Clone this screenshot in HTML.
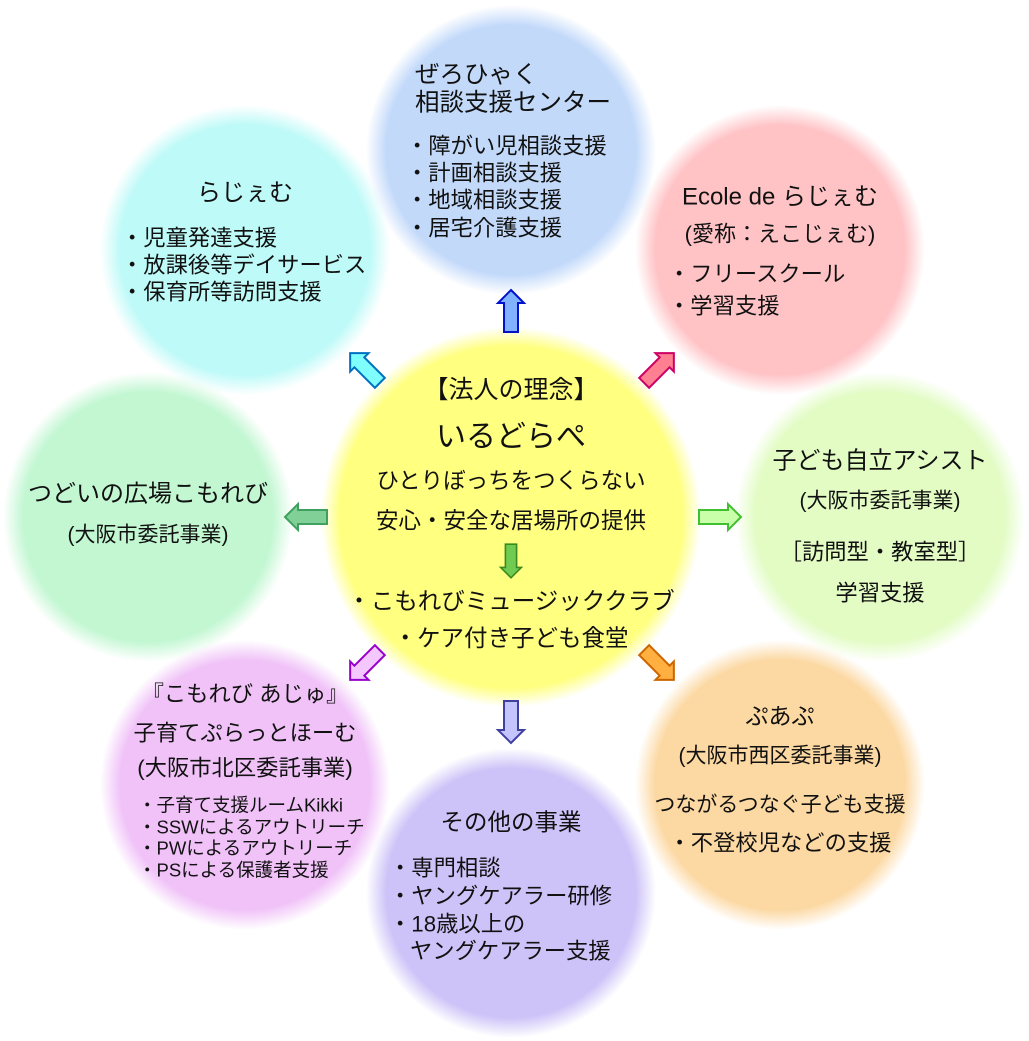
<!DOCTYPE html>
<html><head><meta charset="utf-8"><style>
html,body{margin:0;padding:0;background:#fff;}
svg{display:block;}
text{font-family:"Liberation Sans","Noto Sans CJK JP",sans-serif;fill:#111;dominant-baseline:central;}
</style></head><body>
<svg width="1029" height="1041" viewBox="0 0 1029 1041">
<defs>
<radialGradient id="gb"><stop offset="0.86" stop-color="#c2d9fa"/><stop offset="1" stop-color="#c2d9fa" stop-opacity="0"/></radialGradient>
<radialGradient id="gc"><stop offset="0.86" stop-color="#bdfaf8"/><stop offset="1" stop-color="#bdfaf8" stop-opacity="0"/></radialGradient>
<radialGradient id="gp"><stop offset="0.86" stop-color="#ffc3c6"/><stop offset="1" stop-color="#ffc3c6" stop-opacity="0"/></radialGradient>
<radialGradient id="gm"><stop offset="0.86" stop-color="#c2f7d2"/><stop offset="1" stop-color="#c2f7d2" stop-opacity="0"/></radialGradient>
<radialGradient id="gl"><stop offset="0.86" stop-color="#e2fcc4"/><stop offset="1" stop-color="#e2fcc4" stop-opacity="0"/></radialGradient>
<radialGradient id="gv"><stop offset="0.86" stop-color="#f0c2f8"/><stop offset="1" stop-color="#f0c2f8" stop-opacity="0"/></radialGradient>
<radialGradient id="gu"><stop offset="0.86" stop-color="#cdc3f8"/><stop offset="1" stop-color="#cdc3f8" stop-opacity="0"/></radialGradient>
<radialGradient id="go"><stop offset="0.86" stop-color="#fcd8a2"/><stop offset="1" stop-color="#fcd8a2" stop-opacity="0"/></radialGradient>
<radialGradient id="gy"><stop offset="0.9" stop-color="#ffff80"/><stop offset="1" stop-color="#ffff80" stop-opacity="0"/></radialGradient>
<path id="ar" d="M0,-21 L13,-8 L7,-8 L7,21 L-7,21 L-7,-8 L-13,-8 Z"/>
</defs>
<circle cx="511" cy="150" r="145" fill="url(#gb)"/>
<circle cx="245" cy="250" r="145" fill="url(#gc)"/>
<circle cx="780" cy="250" r="145" fill="url(#gp)"/>
<circle cx="148" cy="517" r="145" fill="url(#gm)"/>
<circle cx="880" cy="517" r="145" fill="url(#gl)"/>
<circle cx="245" cy="785" r="145" fill="url(#gv)"/>
<circle cx="780" cy="785" r="145" fill="url(#go)"/>
<circle cx="511" cy="893" r="145" fill="url(#gu)"/>
<circle cx="511" cy="517" r="190" fill="url(#gy)"/>

<use href="#ar" transform="translate(511,311)" fill="#80b2ff" stroke="#0010cc" stroke-width="2"/>
<use href="#ar" transform="translate(365,368) rotate(-45)" fill="#80ffff" stroke="#0070c0" stroke-width="2"/>
<use href="#ar" transform="translate(659,368) rotate(45)" fill="#ff8090" stroke="#cc0066" stroke-width="2"/>
<use href="#ar" transform="translate(306,517) rotate(-90)" fill="#80d098" stroke="#40a060" stroke-width="2"/>
<use href="#ar" transform="translate(720,517) rotate(90)" fill="#c8ffa8" stroke="#40c030" stroke-width="2"/>
<use href="#ar" transform="translate(511,561) rotate(180) scale(0.8)" fill="#70cc50" stroke="#3a8a20" stroke-width="2"/>
<use href="#ar" transform="translate(365,665) rotate(-135)" fill="#f4c8ff" stroke="#9900cc" stroke-width="2"/>
<use href="#ar" transform="translate(659,665) rotate(135)" fill="#ffb040" stroke="#cc6600" stroke-width="2"/>
<use href="#ar" transform="translate(511,722) rotate(180)" fill="#c4c4ff" stroke="#4040a0" stroke-width="2"/>

<g font-size="24.5">
<text x="415" y="75">ぜろひゃく</text>
<text x="415" y="103">相談支援センター</text>
</g>
<g font-size="22.3">
<text x="406" y="146">・障がい児相談支援</text>
<text x="406" y="173">・計画相談支援</text>
<text x="406" y="200">・地域相談支援</text>
<text x="406" y="228">・居宅介護支援</text>
</g>

<text x="245" y="193" font-size="24" text-anchor="middle">らじぇむ</text>
<g font-size="22.3">
<text x="121" y="238">・児童発達支援</text>
<text x="121" y="265">・放課後等デイサービス</text>
<text x="121" y="292">・保育所等訪問支援</text>
</g>

<text x="780" y="197" font-size="24" text-anchor="middle">Ecole de らじぇむ</text>
<text x="780" y="234" font-size="22" text-anchor="middle">(愛称：えこじぇむ)</text>
<g font-size="22.3">
<text x="668" y="274">・フリースクール</text>
<text x="668" y="306">・学習支援</text>
</g>

<text x="511" y="390" font-size="25" text-anchor="middle">【法人の理念】</text>
<text x="511" y="437" font-size="30" text-anchor="middle">いるどらぺ</text>
<text x="511" y="481" font-size="22.5" text-anchor="middle">ひとりぼっちをつくらない</text>
<text x="511" y="521" font-size="22.5" text-anchor="middle">安心・安全な居場所の提供</text>
<text x="511" y="601" font-size="23.5" text-anchor="middle">・こもれびミュージッククラブ</text>
<text x="511" y="638" font-size="23.5" text-anchor="middle">・ケア付き子ども食堂</text>

<text x="148" y="494" font-size="24" text-anchor="middle">つどいの広場こもれび</text>
<text x="148" y="535" font-size="21" text-anchor="middle">(大阪市委託事業)</text>

<text x="880" y="461" font-size="24" text-anchor="middle">子ども自立アシスト</text>
<text x="880" y="501" font-size="21" text-anchor="middle">(大阪市委託事業)</text>
<text x="880" y="552" font-size="22.3" text-anchor="middle">［訪問型・教室型］</text>
<text x="880" y="593" font-size="22.3" text-anchor="middle">学習支援</text>

<text x="245" y="694" font-size="22.3" text-anchor="middle">『こもれび あじゅ』</text>
<text x="245" y="733" font-size="22.3" text-anchor="middle">子育てぷらっとほーむ</text>
<text x="245" y="768" font-size="22.3" text-anchor="middle">(大阪市北区委託事業)</text>
<g font-size="18.5">
<text x="138" y="805">・子育て支援ルームKikki</text>
<text x="138" y="827">・SSWによるアウトリーチ</text>
<text x="138" y="848">・PWによるアウトリーチ</text>
<text x="138" y="870">・PSによる保護者支援</text>
</g>

<text x="780" y="716" font-size="23" text-anchor="middle">ぷあぷ</text>
<text x="780" y="756" font-size="21" text-anchor="middle">(大阪市西区委託事業)</text>
<text x="780" y="805" font-size="21" text-anchor="middle">つながるつなぐ子ども支援</text>
<text x="780" y="843" font-size="22.3" text-anchor="middle">・不登校児などの支援</text>

<text x="511" y="822" font-size="23.5" text-anchor="middle">その他の事業</text>
<g font-size="22.3">
<text x="389" y="868">・専門相談</text>
<text x="389" y="896">・ヤングケアラー研修</text>
<text x="389" y="924">・18歳以上の</text>
<text x="410" y="951">ヤングケアラー支援</text>
</g>
</svg>
</body></html>
